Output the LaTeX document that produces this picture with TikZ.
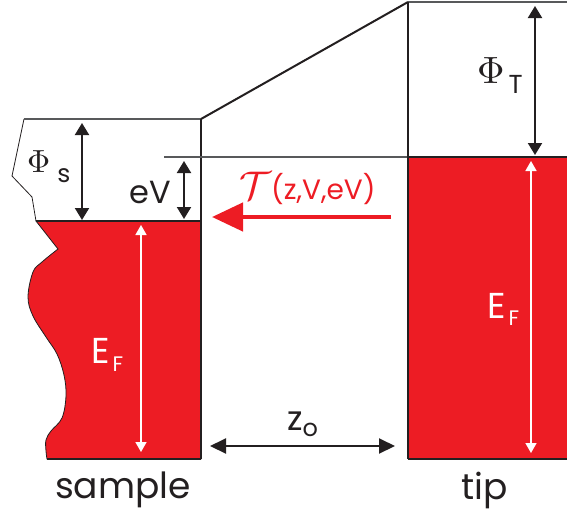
\documentclass[tikz,border=0pt]{standalone}
\usepackage{fontspec}
\setmainfont{Poppins}
\usepackage{tikz}
\usetikzlibrary{arrows.meta}
\definecolor{bandred}{HTML}{ED1C24}
\definecolor{inkdark}{HTML}{231F20}
\definecolor{levelgray}{HTML}{58595B}
\newcommand{\lowsub}[3][9pt]{\raisebox{-#1}{\fontsize{#2}{#2}\selectfont #3}}
\newcommand{\bigsym}[2]{{\fontsize{10}{12}\selectfont\scalebox{#1}{$#2$}}}
\tikzset{
  edge/.style={draw=inkdark, line width=2pt},
  level/.style={draw=levelgray, line width=1.1pt},
  gaparrow/.style={
    {Triangle[length=12pt,width=14pt]}-{Triangle[length=12pt,width=14pt]},
    line width=2pt,
    draw=inkdark
  },
  fermiarrow/.style={
    {Triangle[length=10pt,width=11pt]}-{Triangle[length=10pt,width=11pt]},
    line width=1.6pt,
    draw=white
  },
  distarrow/.style={
    {Triangle[length=16pt,width=15pt]}-{Triangle[length=16pt,width=15pt]},
    line width=2pt,
    draw=inkdark
  },
  currentarrow/.style={
    -{Triangle[length=31pt,width=28pt]},
    line width=4.5pt,
    draw=bandred
  },
  lbl/.style={font=\fontsize{34}{40}\selectfont, inner sep=0pt, text=inkdark},
  whitelbl/.style={lbl, text=white}
}

\begin{document}
\begin{tikzpicture}[x=1pt,y=-1pt]
    \useasboundingbox (0,0) rectangle (567,514);

    % sample corners
    \coordinate (sVacL) at (24,119);
    \coordinate (sVacR) at (201,119);
    \coordinate (sFermiL) at (36,221);
    \coordinate (sFermiR) at (201,221);
    \coordinate (sBotL) at (47,459);
    \coordinate (sBotR) at (201,459);
    % tip corners
    \coordinate (tVac) at (408,2);
    \coordinate (tVacR) at (567,2);
    \coordinate (tFermi) at (408,157);
    \coordinate (tFermiR) at (567,157);
    \coordinate (tBot) at (408,459);
    \coordinate (tBotR) at (567,459);
    \coordinate (tFermiExt) at (164,157);

    % filled states
    \filldraw[fill=bandred, draw=inkdark, line width=0.8pt]
        (sFermiL) -- (58,249) -- plot[smooth, tension=0.6] coordinates {
            (58,249) (42,262) (33,272) (28,297) (33,316) (46,337)
            (57,354) (64,375) (66,396) (62,418) (51,431) (46,440)
            (46,451) (47,459)}
        -- (sBotR) -- (sFermiR) -- cycle;
    \fill[bandred] (tFermi) rectangle (tBotR);

    % sample outline
    \draw[inkdark, line width=0.8pt] (sVacL) -- (12,176) -- (32,197) -- (sFermiL);
    \draw[level] (sVacL) -- (sVacR);
    \draw[edge, line width=1.6pt] (sFermiL) -- (sFermiR);
    \draw[edge] (sBotL) -- (sBotR);
    \draw[edge] (sVacR) -- (sBotR);

    % barrier and tip outline
    \draw[edge] (sVacR) -- (tVac);
    \draw[level] (tVac) -- (tVacR);
    \draw[level] (tFermiExt) -- (tFermi);
    \draw[edge] (tFermi) -- (tFermiR);
    \draw[edge] (tBot) -- (tBotR);
    \draw[edge, line width=2.5pt] (tVac) -- (tBot);

    % energy gaps
    \coordinate (phisTop) at (82,123);
    \coordinate (phisBot) at (82,220);
    \coordinate (evTop) at (184,161);
    \coordinate (evBot) at (184,219);
    \coordinate (phitTop) at (535,6);
    \coordinate (phitBot) at (535,155);
    \coordinate (efsTop) at (141,225);
    \coordinate (efsBot) at (141,452);
    \coordinate (eftTop) at (531,161);
    \coordinate (eftBot) at (531,453);
    \coordinate (zLeft) at (210,446);
    \coordinate (zRight) at (395,446);
    \coordinate (curTail) at (391,217);
    \coordinate (curHead) at (212,217);

    \draw[gaparrow] (phisTop) -- (phisBot);
    \draw[gaparrow] (evTop) -- (evBot);
    \draw[gaparrow] (phitTop) -- (phitBot);
    \draw[fermiarrow] (efsTop) -- (efsBot);
    \draw[fermiarrow] (eftTop) -- (eftBot);
    \draw[distarrow] (zLeft) -- (zRight);
    \draw[currentarrow] (curTail) -- (curHead);

    % labels
    \node[lbl, anchor=base west] (phis) at (27,172) {\bigsym{3.2}{\Phi}\hspace{7pt}\lowsub[10pt]{25}{s}};
    \node[lbl, anchor=base west, font=\fontsize{32}{38}\selectfont] (ev) at (129,203) {eV};
    \node[lbl, anchor=base west] (phit) at (477,83) {\bigsym{3.8}{\Phi}\hspace{4pt}\lowsub[10pt]{26}{T}};
    \node[whitelbl, anchor=base west, font=\fontsize{36}{42}\selectfont] (efs) at (91,363) {E\hspace{3pt}\lowsub[8pt]{21}{F}};
    \node[whitelbl, anchor=base west, font=\fontsize{36}{42}\selectfont] (eft) at (487,318) {E\hspace{3pt}\lowsub[7pt]{21}{F}};
    \node[lbl, anchor=base west] (zo) at (287,430) {z\lowsub[6pt]{24}{o}};
    \node[lbl, anchor=base west, text=bandred] (trans) at (239,199)
        {\bigsym{4}{\mathcal{T}}\fontsize{28}{32}\selectfont(z,V,eV)};
    \node[lbl, anchor=base, font=\fontsize{36}{42}\selectfont] (sample) at (123,498) {sample};
    \node[lbl, anchor=base, font=\fontsize{36}{42}\selectfont] (tip) at (485,499) {tip};
\end{tikzpicture}
\end{document}
